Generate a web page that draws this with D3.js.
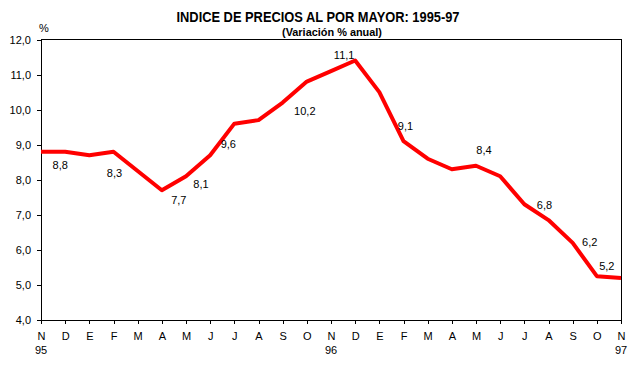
<!DOCTYPE html>
<html>
<head>
<meta charset="utf-8">
<script src="https://cdn.jsdelivr.net/npm/d3@7"></script>
<style>
  body { margin: 0; background: #fff; }
  text { font-family: "Liberation Sans", Arial, sans-serif; }
</style>
</head>
<body>
<script>
// months from Nov 95 to Nov 97
const months = ["N","D","E","F","M","A","M","J","J","A","S","O",
                "N","D","E","F","M","A","M","J","J","A","S","O","N"];
const years = [{ i: 0, t: "95" }, { i: 12, t: "96" }, { i: 24, t: "97" }];
// annual % change
const values = [8.8, 8.8, 8.7, 8.8, 8.25, 7.7, 8.1, 8.7, 9.6, 9.7, 10.2, 10.8,
                11.1, 11.4, 10.5, 9.1, 8.6, 8.3, 8.4, 8.1, 7.3, 6.85, 6.2, 5.25, 5.2];
const yTicks = [4, 5, 6, 7, 8, 9, 10, 11, 12];
// data labels: month index, text, and nudge from the point
const labels = [
    { i: 1, t: "8,8", dx: -5, dy: 17 },
    { i: 3, t: "8,3", dx: 1, dy: 25 },
    { i: 5, t: "7,7", dx: 17, dy: 14 },
    { i: 6, t: "8,1", dx: 15, dy: 12 },
    { i: 8, t: "9,6", dx: -6, dy: 24 },
    { i: 11, t: "10,2", dx: -2, dy: 33 },
    { i: 13, t: "11,1", dx: -11, dy: -2 },
    { i: 15, t: "9,1", dx: 2, dy: -11 },
    { i: 18, t: "8,4", dx: 8, dy: -12 },
    { i: 21, t: "6,8", dx: -4, dy: -11 },
    { i: 22, t: "6,2", dx: 17, dy: 3 },
    { i: 23, t: "5,2", dx: 10, dy: -6 }
];

const width = 636, height = 366;
const margin = { top: 39.5, right: 15, bottom: 46, left: 41 };

const svg = d3.select("body").append("svg")
    .attr("width", width)
    .attr("height", height);

const x = d3.scaleLinear()
    .domain([0, months.length - 1])
    .range([margin.left, width - margin.right]);
const y = d3.scaleLinear()
    .domain([4, 12])
    .range([height - margin.bottom, margin.top]);

const fmt = d => d3.format(".1f")(d).replace(".", ",");

// frame
svg.append("rect")
    .attr("x", x(0)).attr("y", y(12))
    .attr("width", x(24) - x(0)).attr("height", y(4) - y(12))
    .attr("fill", "none").attr("stroke", "#000").attr("stroke-width", 1)
    .attr("shape-rendering", "crispEdges");

// y axis
const yAxis = svg.append("g")
    .attr("transform", `translate(${x(0)},0)`)
    .call(d3.axisLeft(y).tickValues(yTicks).tickFormat(fmt).tickSize(4).tickPadding(6));
yAxis.select(".domain").attr("shape-rendering", "crispEdges");
yAxis.selectAll("line").attr("shape-rendering", "crispEdges");
yAxis.selectAll("text").attr("font-size", 11).attr("font-family", "Liberation Sans, Arial, sans-serif").attr("fill", "#000");

// x axis
const xAxis = svg.append("g")
    .attr("transform", `translate(0,${y(4)})`)
    .call(d3.axisBottom(x).tickValues(d3.range(months.length))
        .tickFormat(i => months[i]).tickSize(4).tickPadding(8));
xAxis.select(".domain").attr("shape-rendering", "crispEdges");
xAxis.selectAll("line").attr("shape-rendering", "crispEdges");
xAxis.selectAll("text").attr("font-size", 11).attr("font-family", "Liberation Sans, Arial, sans-serif").attr("fill", "#000");

svg.selectAll(".year")
    .data(years)
    .enter().append("text")
    .attr("class", "year")
    .attr("x", d => x(d.i))
    .attr("y", y(4) + 34)
    .attr("text-anchor", "middle")
    .attr("font-size", 11)
    .text(d => d.t);

// the line
const line = d3.line()
    .x((d, i) => x(i))
    .y(d => y(d));

svg.append("path")
    .datum(values)
    .attr("d", line)
    .attr("fill", "none")
    .attr("stroke", "#ff0000")
    .attr("stroke-width", 4)
    .attr("stroke-linejoin", "round");

// labels
svg.selectAll(".lbl")
    .data(labels)
    .enter().append("text")
    .attr("class", "lbl")
    .attr("x", d => x(d.i) + d.dx)
    .attr("y", d => y(values[d.i]) + d.dy)
    .attr("text-anchor", "middle")
    .attr("font-size", 11)
    .text(d => d.t);

// titles
svg.append("text")
    .attr("x", 318).attr("y", 22)
    .attr("text-anchor", "middle")
    .attr("font-size", 14).attr("font-weight", "bold")
    .attr("textLength", 283).attr("lengthAdjust", "spacingAndGlyphs")
    .text("INDICE DE PRECIOS AL POR MAYOR: 1995-97");

svg.append("text")
    .attr("x", 332).attr("y", 36)
    .attr("text-anchor", "middle")
    .attr("font-size", 10).attr("font-weight", "bold")
    .attr("textLength", 100).attr("lengthAdjust", "spacingAndGlyphs")
    .text("(Variación % anual)");

svg.append("text")
    .attr("x", 39).attr("y", 32)
    .attr("font-size", 11)
    .text("%");
</script>
</body>
</html>
